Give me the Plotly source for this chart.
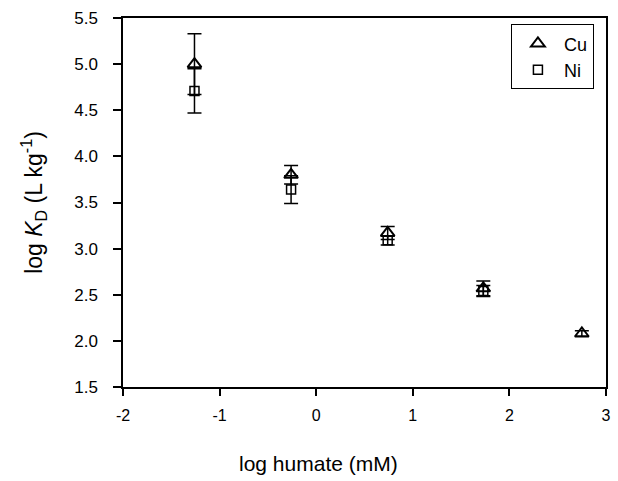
import plotly.graph_objects as go

cu_x = [-1.26, -0.26, 0.74, 1.73, 2.75]
cu_y = [5.00, 3.80, 3.17, 2.57, 2.08]
cu_err = [0.33, 0.10, 0.07, 0.08, 0.03]

ni_x = [-1.26, -0.26, 0.74, 1.73]
ni_y = [4.71, 3.64, 3.09, 2.54]
ni_err = [0.24, 0.15, 0.05, 0.06]

x_ticks = [-2, -1, 0, 1, 2, 3]
y_ticks = [1.5, 2.0, 2.5, 3.0, 3.5, 4.0, 4.5, 5.0, 5.5]

x_title = "log humate (mM)"
y_title = "log <i>K</i><sub>D</sub> (L kg<sup>-1</sup>)"

FONT = "Liberation Sans, Arial, sans-serif"

fig = go.Figure()
fig.add_trace(go.Scatter(
    x=cu_x, y=cu_y, mode="markers", name="Cu",
    marker=dict(symbol="triangle-up-open", size=12, color="black", line=dict(width=2)),
    error_y=dict(type="data", array=cu_err, visible=True, color="black", thickness=1.5, width=7),
))
fig.add_trace(go.Scatter(
    x=ni_x, y=ni_y, mode="markers", name="Ni",
    marker=dict(symbol="square-open", size=9, color="black", line=dict(width=1.5)),
    error_y=dict(type="data", array=ni_err, visible=True, color="black", thickness=1.5, width=7),
))

fig.update_layout(
    width=618, height=481,
    margin=dict(l=123, r=7, t=18, b=94),
    paper_bgcolor="white", plot_bgcolor="white",
    font=dict(family=FONT, size=15, color="black"),
    showlegend=True,
    legend=dict(
        x=0.975, y=0.983, xanchor="right", yanchor="top",
        bordercolor="black", borderwidth=1, bgcolor="white",
        font=dict(size=18, family=FONT), itemwidth=42,
    ),
    xaxis=dict(
        range=[-2, 3], tickvals=x_ticks, ticktext=[str(v) for v in x_ticks],
        tickfont=dict(size=16, family=FONT), ticklabelstandoff=6,
        showgrid=False, zeroline=False, showline=True, linecolor="black", linewidth=1.5,
        mirror=True, ticks="outside", ticklen=7, tickwidth=1.5, tickcolor="black",
    ),
    yaxis=dict(
        range=[1.5, 5.5], tickvals=y_ticks, ticktext=[f"{v:.1f}" for v in y_ticks],
        tickfont=dict(size=17, family=FONT), ticklabelstandoff=12,
        showgrid=False, zeroline=False, showline=True, linecolor="black", linewidth=1.5,
        mirror=True, ticks="outside", ticklen=8, tickwidth=1.5, tickcolor="black",
        title=dict(text=y_title, font=dict(size=23), standoff=25),
    ),
    annotations=[dict(
        text=x_title, xref="paper", yref="paper", x=0.404, y=0,
        xanchor="center", yanchor="middle", yshift=-76, showarrow=False,
        font=dict(size=21, family=FONT),
    )],
)

fig.write_html("out.html", config={"displayModeBar": False},
               post_script="document.body.style.margin='0';")
